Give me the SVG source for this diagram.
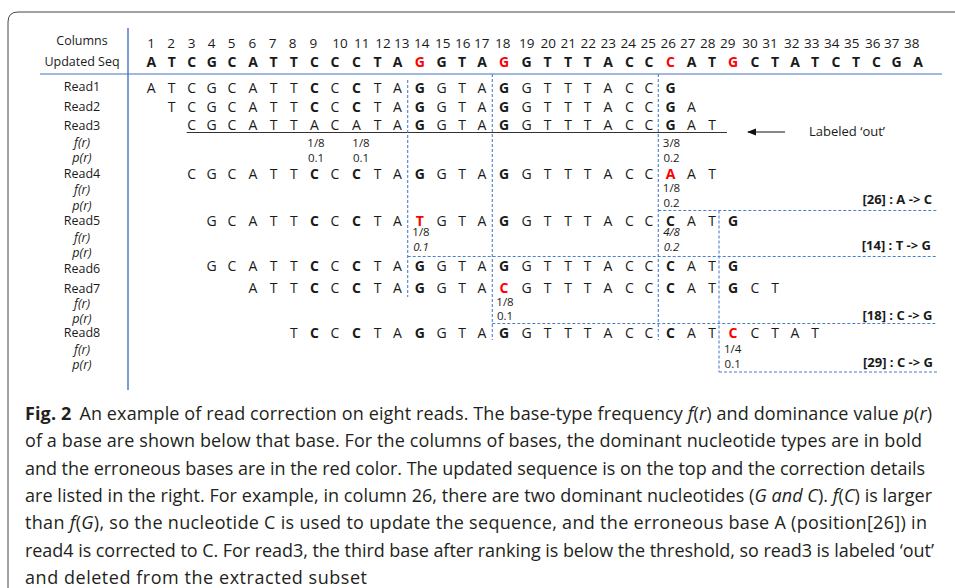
<svg xmlns="http://www.w3.org/2000/svg" width="955" height="588" viewBox="0 0 955 588">
<defs>
<style>
text{font-family:"Open Sans","Noto Sans",sans-serif;fill:#1a1a1a}
.lb{font-size:12.5px;text-anchor:middle}
.it{font-style:italic}
.sq{font-size:14px;text-anchor:middle}
.num{font-size:13.5px;text-anchor:middle}
.b{font-weight:bold}
.r{fill:#ff0000;font-weight:bold}
.v{font-size:11.5px;text-anchor:middle}
.fix{font-size:13px;font-weight:bold;text-anchor:end}
.cap{font-size:18px;fill:#231f20}
.dash{stroke:#4a7fd4;stroke-width:1.1;stroke-dasharray:3 2;fill:none}
</style>
<marker id="ah" markerWidth="10" markerHeight="8" refX="8" refY="4" orient="auto" markerUnits="userSpaceOnUse">
<path d="M0,0.5 L9,4 L0,7.5 Z" fill="#111"/>
</marker>
</defs>
<rect width="955" height="588" fill="#fff"/>
<path d="M8,588 V22 Q8,12 18,12 H955" fill="none" stroke="#444" stroke-width="1"/>

<g id="frame-lines">
<line x1="128" y1="28" x2="128" y2="390" stroke="#4472c4" stroke-width="1.4"/>
<line x1="40" y1="74" x2="942" y2="74" stroke="#4472c4" stroke-width="1"/>
</g>

<g id="row-labels">
<text class="lb" x="82" y="45">Columns</text>
<text class="lb" x="82" y="65.5">Updated  Seq</text>
<text class="lb" x="82" y="91.3">Read1</text>
<text class="lb" x="82" y="110.8">Read2</text>
<text class="lb" x="82" y="129.8">Read3</text>
<text class="lb it" x="82" y="146.8">f(r)</text>
<text class="lb it" x="82" y="161.8">p(r)</text>
<text class="lb" x="82" y="178.3">Read4</text>
<text class="lb it" x="82" y="194.3">f(r)</text>
<text class="lb it" x="82" y="210.3">p(r)</text>
<text class="lb" x="82" y="225.3">Read5</text>
<text class="lb it" x="82" y="242">f(r)</text>
<text class="lb it" x="82" y="257">p(r)</text>
<text class="lb" x="82" y="272.6">Read6</text>
<text class="lb" x="82" y="292.6">Read7</text>
<text class="lb it" x="82" y="307.6">f(r)</text>
<text class="lb it" x="82" y="322.6">p(r)</text>
<text class="lb" x="82" y="337">Read8</text>
<text class="lb it" x="82" y="353.6">f(r)</text>
<text class="lb it" x="82" y="369.3">p(r)</text>
</g>

<g id="columns">
<text class="num" y="48"><tspan x="151">1</tspan><tspan x="171">2</tspan><tspan x="191.7">3</tspan><tspan x="211.7">4</tspan><tspan x="231.7">5</tspan><tspan x="252.3">6</tspan><tspan x="272.7">7</tspan><tspan x="292.7">8</tspan><tspan x="313.3">9</tspan><tspan x="340">10</tspan><tspan x="361.7">11</tspan><tspan x="383">12</tspan><tspan x="401.7">13</tspan><tspan x="421.7">14</tspan><tspan x="442.7">15</tspan><tspan x="462.7">16</tspan><tspan x="481.7">17</tspan><tspan x="502.7">18</tspan><tspan x="526.7">19</tspan><tspan x="548.3">20</tspan><tspan x="568.3">21</tspan><tspan x="588.3">22</tspan><tspan x="608.3">23</tspan><tspan x="628.3">24</tspan><tspan x="648.3">25</tspan><tspan x="668.3">26</tspan><tspan x="687.7">27</tspan><tspan x="707.7">28</tspan><tspan x="727.7">29</tspan><tspan x="750">30</tspan><tspan x="770">31</tspan><tspan x="791.7">32</tspan><tspan x="811.7">33</tspan><tspan x="831.7">34</tspan><tspan x="851.7">35</tspan><tspan x="872.7">36</tspan><tspan x="891.7">37</tspan><tspan x="911.7">38</tspan></text>
</g>

<g id="updated-seq">
<text class="sq b" y="67"><tspan x="151.3 171.7 191.7 211.7 232 253 273.5 293.8 314.5 335 356.5 377.5 397.5">ATCGCATTCCCTA</tspan><tspan class="r" x="419.7">G</tspan><tspan x="441.5 462 482">GTA</tspan><tspan class="r" x="504">G</tspan><tspan x="526.5 547.5 568 587.5 608 629.5 649">GTTTACC</tspan><tspan class="r" x="670.5">C</tspan><tspan x="691.5 712">AT</tspan><tspan class="r" x="733">G</tspan><tspan x="755 775 795 815 836 856 876.5 896.5 918">CTATCTCGA</tspan></text>
</g>

<g id="read1">
<text class="sq" y="92.5"><tspan x="151.3 171.7 191.7 211.7 232 253 273.5 293.8">ATCGCATT</tspan><tspan class="b" x="314.5">C</tspan><tspan x="335">C</tspan><tspan class="b" x="356.5">C</tspan><tspan x="377.5 397.5">TA</tspan><tspan class="b" x="419.7">G</tspan><tspan x="441.5 462 482">GTA</tspan><tspan class="b" x="504">G</tspan><tspan x="526.5 547.5 568 587.5 608 629.5 649">GTTTACC</tspan><tspan class="b" x="670.5">G</tspan></text>
</g>

<g id="read2">
<text class="sq" y="111.5"><tspan x="171.7 191.7 211.7 232 253 273.5 293.8">TCGCATT</tspan><tspan class="b" x="314.5">C</tspan><tspan x="335">C</tspan><tspan class="b" x="356.5">C</tspan><tspan x="377.5 397.5">TA</tspan><tspan class="b" x="419.7">G</tspan><tspan x="441.5 462 482">GTA</tspan><tspan class="b" x="504">G</tspan><tspan x="526.5 547.5 568 587.5 608 629.5 649">GTTTACC</tspan><tspan class="b" x="670.5">G</tspan><tspan x="691.5">A</tspan></text>
</g>

<g id="read3">
<text class="sq" y="130"><tspan x="191.7 211.7 232 253 273.5 293.8 314.5 335 356.5 377.5 397.5">CGCATTACATA</tspan><tspan class="b" x="419.7">G</tspan><tspan x="441.5 462 482">GTA</tspan><tspan class="b" x="504">G</tspan><tspan x="526.5 547.5 568 587.5 608 629.5 649">GTTTACC</tspan><tspan class="b" x="670.5">G</tspan><tspan x="691.5 712">AT</tspan></text>
<line x1="186.7" y1="132.5" x2="727" y2="132.5" stroke="#333" stroke-width="1.2"/>
<text class="v" x="316" y="146.5">1/8</text>
<text class="v" x="361" y="146.5">1/8</text>
<text class="v" x="316" y="161.7">0.1</text>
<text class="v" x="361" y="161.7">0.1</text>
<text class="v" x="671.5" y="146.5">3/8</text>
<text class="v" x="671.5" y="161.5">0.2</text>
</g>

<g id="read4">
<text class="sq" y="178.5"><tspan x="191.7 211.7 232 253 273.5 293.8">CGCATT</tspan><tspan class="b" x="314.5">C</tspan><tspan x="335">C</tspan><tspan class="b" x="356.5">C</tspan><tspan x="377.5 397.5">TA</tspan><tspan class="b" x="419.7">G</tspan><tspan x="441.5 462 482">GTA</tspan><tspan class="b" x="504">G</tspan><tspan x="526.5 547.5 568 587.5 608 629.5 649">GTTTACC</tspan><tspan class="r" x="670.5">A</tspan><tspan x="691.5 712">AT</tspan></text>
<text class="v" x="671.5" y="191.5">1/8</text>
<text class="v" x="671.5" y="206.9">0.2</text>
</g>

<g id="read5">
<text class="sq" y="225.5"><tspan x="211.7 232 253 273.5 293.8">GCATT</tspan><tspan class="b" x="314.5">C</tspan><tspan x="335">C</tspan><tspan class="b" x="356.5">C</tspan><tspan x="377.5 397.5">TA</tspan><tspan class="r" x="419.7">T</tspan><tspan x="441.5 462 482">GTA</tspan><tspan class="b" x="504">G</tspan><tspan x="526.5 547.5 568 587.5 608 629.5 649">GTTTACC</tspan><tspan class="b" x="670.5">C</tspan><tspan x="691.5 712">AT</tspan><tspan class="b" x="733">G</tspan></text>
<text class="v" x="421" y="236">1/8</text>
<text class="v it" x="421" y="251">0.1</text>
<text class="v it" x="671.5" y="236">4/8</text>
<text class="v it" x="671.5" y="250.5">0.2</text>
</g>

<g id="read6">
<text class="sq" y="271"><tspan x="211.7 232 253 273.5 293.8">GCATT</tspan><tspan class="b" x="314.5">C</tspan><tspan x="335">C</tspan><tspan class="b" x="356.5">C</tspan><tspan x="377.5 397.5">TA</tspan><tspan class="b" x="419.7">G</tspan><tspan x="441.5 462 482">GTA</tspan><tspan class="b" x="504">G</tspan><tspan x="526.5 547.5 568 587.5 608 629.5 649">GTTTACC</tspan><tspan class="b" x="670.5">C</tspan><tspan x="691.5 712">AT</tspan><tspan class="b" x="733">G</tspan></text>
</g>

<g id="read7">
<text class="sq" y="293"><tspan x="253 273.5 293.8">ATT</tspan><tspan class="b" x="314.5">C</tspan><tspan x="335">C</tspan><tspan class="b" x="356.5">C</tspan><tspan x="377.5 397.5">TA</tspan><tspan class="b" x="419.7">G</tspan><tspan x="441.5 462 482">GTA</tspan><tspan class="r" x="504">C</tspan><tspan x="526.5 547.5 568 587.5 608 629.5 649">GTTTACC</tspan><tspan class="b" x="670.5">C</tspan><tspan x="691.5 712">AT</tspan><tspan class="b" x="733">G</tspan><tspan x="755 775">CT</tspan></text>
<text class="v" x="505" y="306">1/8</text>
<text class="v" x="505" y="320.3">0.1</text>
</g>

<g id="read8">
<text class="sq" y="338"><tspan x="293.8">T</tspan><tspan class="b" x="314.5">C</tspan><tspan x="335">C</tspan><tspan class="b" x="356.5">C</tspan><tspan x="377.5 397.5">TA</tspan><tspan class="b" x="419.7">G</tspan><tspan x="441.5 462 482">GTA</tspan><tspan class="b" x="504">G</tspan><tspan x="526.5 547.5 568 587.5 608 629.5 649">GTTTACC</tspan><tspan class="b" x="670.5">C</tspan><tspan x="691.5 712">AT</tspan><tspan class="r" x="733">C</tspan><tspan x="755 775 795 815">CTAT</tspan></text>
<text class="v" x="732.7" y="353.3">1/4</text>
<text class="v" x="732.7" y="367.6">0.1</text>
</g>

<g id="connectors">
<path class="dash" d="M407.7,80 V297"/>
<path class="dash" d="M492.3,74 V340"/>
<path class="dash" d="M658.3,74 V340"/>
<path class="dash" d="M719,210.5 V372"/>
<path class="dash" d="M658.3,210.5 H937"/>
<path class="dash" d="M407.7,256.5 H937"/>
<path class="dash" d="M492.3,323.5 H937"/>
<path class="dash" d="M719,372 H937"/>
<line x1="785" y1="132" x2="748" y2="132" stroke="#111" stroke-width="1.2" marker-end="url(#ah)"/>
</g>

<g id="annotations">
<text x="809" y="136" style="font-size:13px">Labeled ‘out’</text>
<text class="fix" x="932" y="204">[26] : A -&gt; C</text>
<text class="fix" x="931" y="249.5">[14] : T -&gt; G</text>
<text class="fix" x="932.5" y="319.5">[18] : C -&gt; G</text>
<text class="fix" x="933" y="366.5">[29] : C -&gt; G</text>
</g>

<g id="caption">
<text class="cap" x="25" y="420" textLength="907" lengthAdjust="spacing"><tspan font-weight="bold">Fig. 2</tspan><tspan dx="8">An example of read correction on eight reads. The base-type frequency </tspan><tspan class="it">f</tspan>(<tspan class="it">r</tspan>) and dominance value <tspan class="it">p</tspan>(<tspan class="it">r</tspan>)</text>
<text class="cap" x="25" y="447.3" textLength="897" lengthAdjust="spacing">of a base are shown below that base. For the columns of bases, the dominant nucleotide types are in bold</text>
<text class="cap" x="25" y="474.6" textLength="900" lengthAdjust="spacing">and the erroneous bases are in the red color. The updated sequence is on the top and the correction details</text>
<text class="cap" x="25" y="501.9" textLength="907" lengthAdjust="spacing">are listed in the right. For example, in column 26, there are two dominant nucleotides (<tspan class="it">G and C</tspan>). <tspan class="it">f</tspan>(<tspan class="it">C</tspan>) is larger</text>
<text class="cap" x="25" y="529.2" textLength="902" lengthAdjust="spacing">than <tspan class="it">f</tspan>(<tspan class="it">G</tspan>), so the nucleotide C is used to update the sequence, and the erroneous base A (position[26]) in</text>
<text class="cap" x="25" y="556.5" textLength="909" lengthAdjust="spacing">read4 is corrected to C. For read3, the third base after ranking is below the threshold, so read3 is labeled ‘out’</text>
<text class="cap" x="25" y="583.8" textLength="342" lengthAdjust="spacing">and deleted from the extracted subset</text>
</g>
</svg>
